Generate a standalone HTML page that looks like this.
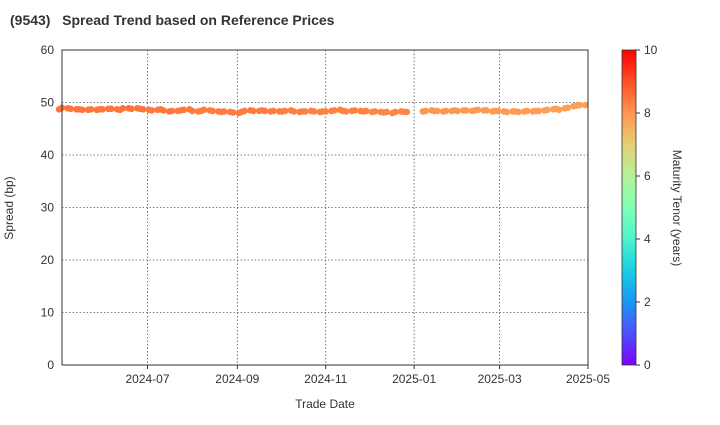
<!DOCTYPE html>
<html><head><meta charset="utf-8"><style>
body{margin:0;background:#fff;font-family:"Liberation Sans",sans-serif}
</style></head><body>
<svg id="c" width="720" height="420" xmlns="http://www.w3.org/2000/svg" font-family="Liberation Sans, sans-serif">
<defs><linearGradient id="cb" x1="0" y1="1" x2="0" y2="0">
</linearGradient></defs>
<text x="10" y="25" font-size="14" font-weight="bold" fill="#333" xml:space="preserve">(9543)   Spread Trend based on Reference Prices</text>
<g id="grid"></g><g id="pts"></g><g id="axes"></g>
</svg>
<script>
const yTicks=[0,10,20,30,40,50,60];
const xTickLabels=["2024-07","2024-09","2024-11","2025-01","2025-03","2025-05"];
const spreads=[48.7,49.0,48.9,48.8,48.7,48.7,48.6,48.6,48.7,48.6,48.7,
48.7,48.8,48.8,48.7,48.6,48.9,48.9,48.8,48.9,48.8,48.7,
48.6,48.5,48.6,48.7,48.5,48.3,48.4,48.4,48.5,48.6,48.7,
48.4,48.3,48.4,48.6,48.5,48.4,48.3,48.2,48.3,48.2,48.1,
48.0,48.2,48.4,48.5,48.4,48.4,48.5,48.4,48.3,48.4,48.3,
48.3,48.4,48.5,48.3,48.2,48.3,48.3,48.4,48.3,48.2,48.3,
48.3,48.4,48.5,48.6,48.4,48.3,48.4,48.5,48.4,48.3,48.4,
48.2,48.3,48.2,48.1,48.2,48.0,48.2,48.3,48.2,
48.2,48.3,48.4,48.5,48.4,48.4,48.3,48.4,48.4,48.5,
48.4,48.5,48.5,48.4,48.5,48.6,48.5,48.5,48.3,48.4,
48.4,48.3,48.2,48.3,48.3,48.2,48.3,48.4,48.3,48.4,48.4,
48.5,48.6,48.7,48.8,48.6,48.9,49.0,49.3,49.4,49.5,49.5];
const monthTenors=[8.5,8.5,8.45,8.4,8.4,8.35,8.3,8.25,8.0,7.95,7.9,7.85];
const NS="http://www.w3.org/2000/svg";
const L=62,R=588,T=50,B=365;
const d0=Date.UTC(2024,4,3),d1=Date.UTC(2025,4,1);
const xS=t=>L+(t-d0)/(d1-d0)*(R-L);
const yS=v=>B-v/60*(B-T);
function rainbow(x){const r=Math.min(1,Math.abs(2*x-0.5)),g=Math.sin(Math.PI*x),b=Math.cos(Math.PI*x/2);
return `rgb(${Math.round(r*255)},${Math.round(g*255)},${Math.round(b*255)})`;}
function mk(tag,a,p){const e=document.createElementNS(NS,tag);for(const k in a)e.setAttribute(k,a[k]);p.appendChild(e);return e;}
const svg=document.getElementById('c'),grid=document.getElementById('grid'),pts=document.getElementById('pts'),axes=document.getElementById('axes');
const dates=[];let cnt=0;
for(let t=Date.UTC(2024,4,1);t<=Date.UTC(2025,3,30);t+=864e5){const d=new Date(t).getUTCDay();if(d==0||d==6)continue;
if(t>=Date.UTC(2024,11,30)&&t<=Date.UTC(2025,0,3))continue;if(cnt++%2==0)dates.push(t);}
yTicks.forEach(v=>{const y=yS(v);
const gl=mk('line',{x1:L,x2:R,y1:y,y2:y,stroke:'#555','stroke-width':0.8,'stroke-dasharray':'1.5,2'},grid);


const tx=mk('text',{x:L-8,y:y+4,'font-size':12,'text-anchor':'end',fill:'#333'},axes);tx.textContent=v;

});
xTickLabels.forEach(s=>{const [yy,mm]=s.split('-').map(Number);const x=xS(Date.UTC(yy,mm-1,1));
const gl=mk('line',{x1:x,x2:x,y1:T,y2:B,stroke:'#555','stroke-width':0.8,'stroke-dasharray':'1.5,2'},grid);


mk('line',{x1:x,x2:x,y1:B,y2:B+4,stroke:'#333'},axes);
const tx=mk('text',{x:x,y:B+18,'font-size':12,'text-anchor':'middle',fill:'#333'},axes);tx.textContent=s;

});
const n=Math.min(dates.length,spreads.length);
for(let i=0;i<n;i++){const dt=new Date(dates[i]);const mi=(dt.getUTCFullYear()-2024)*12+dt.getUTCMonth()-4;
const c=mk('circle',{cx:xS(dates[i]),cy:yS(spreads[i]),r:3.3,fill:rainbow(monthTenors[Math.max(0,Math.min(11,mi))]/10)},pts);

}
const fr=mk('rect',{x:L,y:T,width:R-L,height:B-T,fill:'none',stroke:'#333','stroke-width':1},axes);


const g=svg.querySelector('#cb');
for(let i=0;i<=10;i++){mk('stop',{offset:i/10,'stop-color':rainbow(i/10)},g);}
const cb=mk('rect',{x:622,y:T,width:14,height:B-T,fill:'url(#cb)',stroke:'#333','stroke-width':0.8},axes);


[0,2,4,6,8,10].forEach(v=>{const y=B-v/10*(B-T);mk('line',{x1:636,x2:640,y1:y,y2:y,stroke:'#333'},axes);
const tx=mk('text',{x:644,y:y+4,'font-size':12,fill:'#333'},axes);tx.textContent=v;

});
let t=mk('text',{x:325,y:408,'font-size':12,'text-anchor':'middle',fill:'#333'},axes);t.textContent='Trade Date';


t=mk('text',{x:0,y:0,'font-size':12,'text-anchor':'middle',fill:'#333',transform:'translate(13,208) rotate(-90)'},axes);t.textContent='Spread (bp)';


t=mk('text',{x:0,y:0,'font-size':12,'text-anchor':'middle',fill:'#333',transform:'translate(673,208) rotate(90)'},axes);t.textContent='Maturity Tenor (years)';


</script>
</body></html>
